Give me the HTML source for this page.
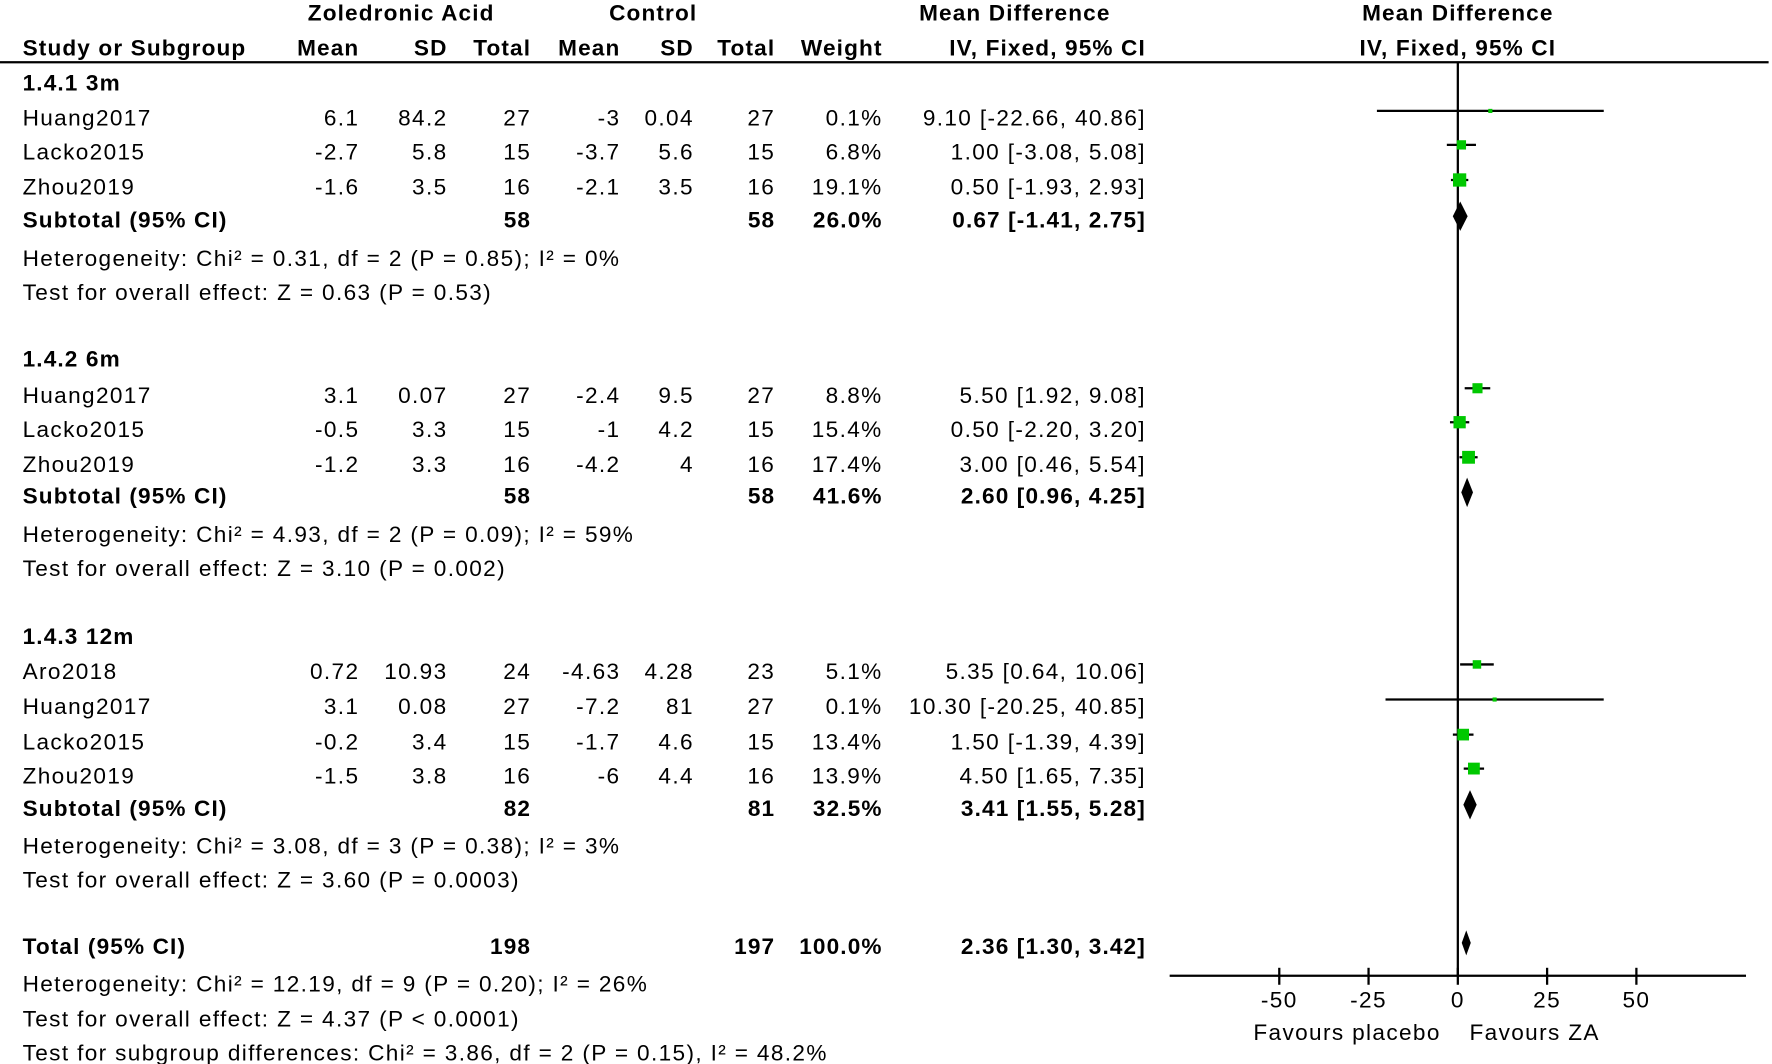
<!DOCTYPE html>
<html><head><meta charset="utf-8"><style>
html,body{margin:0;padding:0;background:#fff;overflow:hidden}
svg{display:block}
text{font-family:"Liberation Sans",Arial,sans-serif;font-size:20px;fill:#000;letter-spacing:1.2px}
.b{font-weight:bold;letter-spacing:1px}
</style></head><body>
<svg id="chart" width="1772" height="1064" viewBox="0 0 1568 940" preserveAspectRatio="none" xmlns="http://www.w3.org/2000/svg">
<g>
<text class="b" x="355" y="18" text-anchor="middle">Zoledronic Acid</text>
<text class="b" x="578" y="18" text-anchor="middle">Control</text>
<text class="b" x="898" y="18" text-anchor="middle">Mean Difference</text>
<text class="b" x="1290" y="18" text-anchor="middle">Mean Difference</text>
<text class="b" x="20" y="49">Study or Subgroup</text>
<text class="b" x="318" y="49" text-anchor="end">Mean</text>
<text class="b" x="396" y="49" text-anchor="end">SD</text>
<text class="b" x="470" y="49" text-anchor="end">Total</text>
<text class="b" x="549" y="49" text-anchor="end">Mean</text>
<text class="b" x="614" y="49" text-anchor="end">SD</text>
<text class="b" x="686" y="49" text-anchor="end">Total</text>
<text class="b" x="781" y="49" text-anchor="end">Weight</text>
<text class="b" x="1014" y="49" text-anchor="end">IV, Fixed, 95% CI</text>
<text class="b" x="1290" y="49" text-anchor="middle">IV, Fixed, 95% CI</text>
<line x1="0" y1="55" x2="1565" y2="55" stroke="#000" stroke-width="2"/>
</g>
<g id="table"></g>
<g id="plot"></g>
</svg>
<script>
const studyNames=["Huang2017","Lacko2015","Zhou2019","Huang2017","Lacko2015","Zhou2019","Aro2018","Huang2017","Lacko2015","Zhou2019"];
const studyY=[104,134,165,349,379,410,593,624,655,685];
const zaMean=["6.1","-2.7","-1.6","3.1","-0.5","-1.2","0.72","3.1","-0.2","-1.5"];
const zaSD=["84.2","5.8","3.5","0.07","3.3","3.3","10.93","0.08","3.4","3.8"];
const zaN=["27","15","16","27","15","16","24","27","15","16"];
const ctMean=["-3","-3.7","-2.1","-2.4","-1","-4.2","-4.63","-7.2","-1.7","-6"];
const ctSD=["0.04","5.6","3.5","9.5","4.2","4","4.28","81","4.6","4.4"];
const ctN=["27","15","16","27","15","16","23","27","15","16"];
const weights=[0.1,6.8,19.1,8.8,15.4,17.4,5.1,0.1,13.4,13.9];
const md=[9.10,1.00,0.50,5.50,0.50,3.00,5.35,10.30,1.50,4.50];
const lo=[-22.66,-3.08,-1.93,1.92,-2.20,0.46,0.64,-20.25,-1.39,1.65];
const hi=[40.86,5.08,2.93,9.08,3.20,5.54,10.06,40.85,4.39,7.35];

const subLabels=["Subtotal (95% CI)","Subtotal (95% CI)","Subtotal (95% CI)","Total (95% CI)"];
const subY=[194,438,714,836];
const subZaN=["58","58","82","198"];
const subCtN=["58","58","81","197"];
const subW=["26.0%","41.6%","32.5%","100.0%"];
const subMd=[0.67,2.60,3.41,2.36];
const subLo=[-1.41,0.96,1.55,1.30];
const subHi=[2.75,4.25,5.28,3.42];
const subDiamondH=[26,26,26,22];

const groupLabels=["1.4.1 3m","1.4.2 6m","1.4.3 12m"];
const groupY=[80,324,569];
const notes=["Heterogeneity: Chi² = 0.31, df = 2 (P = 0.85); I² = 0%","Test for overall effect: Z = 0.63 (P = 0.53)",
"Heterogeneity: Chi² = 4.93, df = 2 (P = 0.09); I² = 59%","Test for overall effect: Z = 3.10 (P = 0.002)",
"Heterogeneity: Chi² = 3.08, df = 3 (P = 0.38); I² = 3%","Test for overall effect: Z = 3.60 (P = 0.0003)",
"Heterogeneity: Chi² = 12.19, df = 9 (P = 0.20); I² = 26%","Test for overall effect: Z = 4.37 (P < 0.0001)",
"Test for subgroup differences: Chi² = 3.86, df = 2 (P = 0.15), I² = 48.2%"];
const noteY=[235,265,479,509,754,784,876,907,937];
const ticks=[-50,-25,0,25,50];

const NS="http://www.w3.org/2000/svg";
const table=document.getElementById('table');
const plot=document.getElementById('plot');
function mk(tag,attrs,parent){const e=document.createElementNS(NS,tag);for(const k in attrs)e.setAttribute(k,attrs[k]);parent.appendChild(e);return e;}
function txt(s,x,y,anchor,bold,parent){const t=mk('text',{x:x,y:y,'text-anchor':anchor},parent);if(bold)t.setAttribute('class','b');t.textContent=s;return t;}
const x0=1290,scale=3.16;
function xs(v){return x0+v*scale;}
function f2(v){return v.toFixed(2);}

groupLabels.forEach((g,i)=>{const t=txt(g,20,groupY[i],'start',true,table);

});
studyNames.forEach((n,i)=>{
  const y=studyY[i]+7;
  const row=mk('g',{},table);
  
  
  txt(n,20,y,'start',false,row);
  txt(zaMean[i],318,y,'end',false,row);
  txt(zaSD[i],396,y,'end',false,row);
  txt(zaN[i],470,y,'end',false,row);
  txt(ctMean[i],549,y,'end',false,row);
  txt(ctSD[i],614,y,'end',false,row);
  txt(ctN[i],686,y,'end',false,row);
  txt(weights[i].toFixed(1)+'%',781,y,'end',false,row);
  txt(f2(md[i])+' ['+f2(lo[i])+', '+f2(hi[i])+']',1014,y,'end',false,row);
});
subLabels.forEach((n,i)=>{
  const y=subY[i]+7;
  const row=mk('g',{},table);
  
  
  txt(n,20,y,'start',true,row);
  txt(subZaN[i],470,y,'end',true,row);
  txt(subCtN[i],686,y,'end',true,row);
  txt(subW[i],781,y,'end',true,row);
  txt(f2(subMd[i])+' ['+f2(subLo[i])+', '+f2(subHi[i])+']',1014,y,'end',true,row);
});
notes.forEach((s,i)=>{const t=txt(s,20,noteY[i],'start',false,table);

});

const zl=mk('line',{x1:xs(0),y1:55,x2:xs(0),y2:862,stroke:'#000','stroke-width':2},plot);


const ax=mk('line',{x1:1035,y1:862,x2:1545,y2:862,stroke:'#000','stroke-width':2},plot);


ticks.forEach(v=>{
  const tk=mk('line',{x1:xs(v),y1:855,x2:xs(v),y2:870,stroke:'#000','stroke-width':2},plot);
  
  
  const t=txt(String(v),xs(v),890,'middle',false,plot);
  
  
});
const fp=txt('Favours placebo',1192,919,'middle',false,plot);


const fz=txt('Favours ZA',1358,919,'middle',false,plot);



studyNames.forEach((n,i)=>{
  const y=studyY[i]-6;
  const ci=mk('line',{x1:xs(lo[i]),y1:y,x2:xs(hi[i]),y2:y,stroke:'#000','stroke-width':2},plot);
  
  
  const s=3+2*Math.sqrt(weights[i]);
  const sq=mk('rect',{x:xs(md[i])-s/2,y:y-s/2,width:s,height:s,fill:'#00c800'},plot);
  
  
});
subLabels.forEach((n,i)=>{
  const y=subY[i]-3,h=subDiamondH[i]/2;
  let l=xs(subLo[i]),r=xs(subHi[i]),c=xs(subMd[i]);
  if(r-l<8){l=c-4;r=c+4;}
  const d=mk('polygon',{points:`${l},${y} ${c},${y-h} ${r},${y} ${c},${y+h}`,fill:'#000'},plot);
  
  
});
</script>
</body></html>
